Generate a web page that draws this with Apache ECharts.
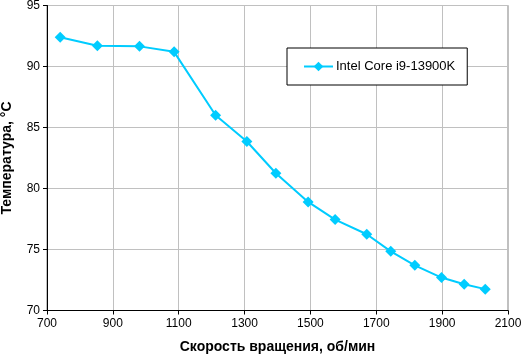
<!DOCTYPE html>
<html><head><meta charset="utf-8">
<script src="https://cdn.jsdelivr.net/npm/echarts@6/dist/echarts.min.js"></script>
<style>html,body{margin:0;padding:0;background:#fff}#c{width:521px;height:355px}</style>
</head><body><div id="c"></div>
<script>
const seriesName = 'Intel Core i9-13900K';
const rpm = [740, 853, 981, 1086, 1212, 1307, 1395, 1493, 1575, 1671, 1744, 1817, 1898, 1967, 2031];
const temp = [92.4, 91.7, 91.65, 91.2, 86.0, 83.85, 81.25, 78.9, 77.45, 76.25, 74.85, 73.7, 72.7, 72.15, 71.75];
const xTitle = 'Скорость вращения, об/мин';
const yTitle = 'Температура, °C';

const chart = echarts.init(document.getElementById('c'));
const font = 'Liberation Sans, Arial, sans-serif';
chart.setOption({
  animation: false,
  backgroundColor: '#fff',
  grid: {left: 47, right: 13, top: 5.5, bottom: 44.5, show: true, borderColor: '#808080', borderWidth: 1,
         containLabel: false, outerBoundsMode: 'none'},
  legend: {
    data: [seriesName], left: 287, top: 48, orient: 'horizontal',
    backgroundColor: '#fff', borderColor: '#000', borderWidth: 1, borderRadius: 0,
    padding: [12, 12, 12, 16], itemWidth: 29, itemHeight: 12, itemGap: 0,
    textStyle: {fontFamily: font, fontSize: 13, color: '#000', padding: [0,0,0,-2]}
  },
  xAxis: {
    type: 'value', min: 700, max: 2100, interval: 200,
    name: xTitle, nameLocation: 'middle', nameGap: 30,
    nameTextStyle: {fontFamily: font, fontSize: 14, fontWeight: 'bold', color: '#000'},
    axisLine: {lineStyle: {color: '#000', width: 1}},
    axisTick: {show: true, inside: false, length: 4, lineStyle: {color: '#000'}},
    axisLabel: {fontFamily: font, fontSize: 12, color: '#000', margin: 7, formatter: v => String(v)},
    splitLine: {show: true, lineStyle: {color: '#c0c0c0', width: 1}}
  },
  yAxis: {
    type: 'value', min: 70, max: 95, interval: 5,
    name: yTitle, nameLocation: 'middle', nameGap: 33, nameRotate: 90,
    nameTextStyle: {fontFamily: font, fontSize: 14, fontWeight: 'bold', color: '#000'},
    axisLine: {show: true, lineStyle: {color: '#000', width: 1}},
    axisTick: {show: true, inside: false, length: 4, lineStyle: {color: '#000'}},
    axisLabel: {fontFamily: font, fontSize: 12, color: '#000', margin: 7, formatter: v => String(v)},
    splitLine: {show: true, lineStyle: {color: '#c0c0c0', width: 1}}
  },
  series: [{
    name: seriesName, type: 'line',
    data: rpm.map((x, i) => [x, temp[i]]),
    symbol: 'diamond', symbolSize: 11,
    lineStyle: {color: '#00ccff', width: 2},
    itemStyle: {color: '#00ccff'}
  }]
});
</script></body></html>
